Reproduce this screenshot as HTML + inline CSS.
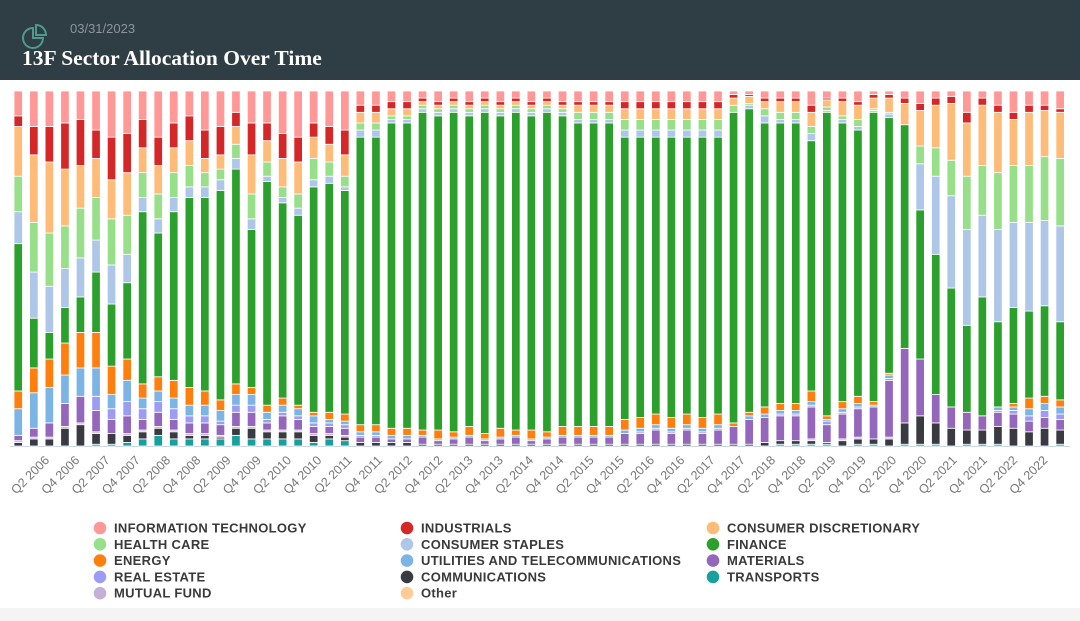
<!DOCTYPE html>
<html><head><meta charset="utf-8"><style>
body{margin:0;width:1080px;height:621px;overflow:hidden;background:#fff;font-family:"Liberation Sans","DejaVu Sans",sans-serif}
#hdr{position:absolute;left:0;top:0;width:1080px;height:80px;background:#2f3d44}
#date{position:absolute;left:70px;top:21px;color:#8a969c;font-size:13px}
#title{position:absolute;left:22px;top:46px;color:#fff;font-family:"Liberation Serif",serif;font-weight:bold;font-size:21.5px}
#foot{position:absolute;left:0;top:608px;width:1080px;height:13px;background:#f4f4f4}
</style></head><body>
<div id="hdr"><svg style="position:absolute;left:21px;top:22px" width="30" height="30" viewBox="0 0 30 30"><path d="M12 6 A10 10 0 1 0 22 16 L12 16 Z" fill="none" stroke="#4f9a8f" stroke-width="2"/><path d="M15 3 A10 10 0 0 1 25 13 L15 13 Z" fill="none" stroke="#4f9a8f" stroke-width="2"/></svg>
<div id="date">03/31/2023</div><div id="title">13F Sector Allocation Over Time</div></div>
<svg id="c" style="position:absolute;left:0;top:0" width="1080" height="608"></svg>
<div id="foot"></div>
<script>
var C=["#17a09c","#3a3a42","#c5b0d5","#9467bd","#9c9cf5","#7db4e6","#ff7f0e","#2ca02c","#aec7e8","#98df8a","#ffbb78","#d62728","#ff9896"];
var E={
0:[0,1,0.5,1.5,0,7.5,5,9,10,14,3,7],
1:[0,2,0.5,2.5,0,10,7,13,14,19,8,10],
2:[0,2,0.5,4,0,10,8,13,15,20,10,10],
3:[0,5,0.5,6.5,0,8,9,11,12,16,13,9],
4:[0,6,0.5,7.5,0,8,10,11,14,12,13,8],
5:[0.5,3,0.5,6,4,8,10,9,12,11,8,11],
6:[0.5,3,0,4,3,4,8,11,13,11,12,13],
7:[1,2,0.5,5,4,6,6,8,11,12,11,12],
8:[2,2,0.5,3,3,3,4,4,7,7,8,8],
9:[3,2,0.5,4,3,3,4,4,7,8,8,13],
10:[2,2,0.5,3,3,3,5,4,7,7,7,9],
11:[2,1,0.5,3,2,3,5,3,6,7,7,7],
12:[2,1,0.5,3,2,3,4,3,4,4,8,11],
13:[2,0.5,0.5,3,1,3,3,3,3,4,8,10],
14:[3,2,0.5,4,2,3,3,3,4,5,4,6],
15:[2,3,0.5,4,2,3,2,3,7,11,9,9],
16:[2,2,0.5,2,1,2,2,1.5,4,6,5,9],
17:[2,2,0.5,4,1,2,2,1.5,3,8,7,12],
18:[2,2,0.5,3,1,2,1,2,4,9,7,13],
19:[1,2,0.5,2,1,2,1,2,6,6,4,9],
20:[2,1,0.5,2,1,1,2,2,4,5,5,10],
21:[1.5,1,0.5,2,1,1,2,1,3,6,7,11],
46:[0,0.5,0,5,0,0,1,0,2,2,1,1],
47:[0,0.5,0,7,0,1,1,1,0.5,2,0.5,1],
48:[0,1,0,7,0,1,2,2,2,2,1,2],
49:[0.5,1,0,7,0.5,1,2,1,2,3,1,2],
50:[0.5,1,0,7,0.5,1,2,1,2,3,1,2],
51:[0.5,1,0.5,9,0.5,1,3,2,2,4,2,4],
52:[0.5,0.5,0,5,1,0.5,1,0.5,1,2,0.5,2],
53:[0,1.5,0.5,7,0.5,1,2,1,1,4,1,2],
54:[0.5,1.5,0.5,8,0.5,1,2,1,2,4,1,3],
55:[0.5,1.5,0,9,0,0.5,1,0.5,0.5,3,1,1],
56:[0,2,0.5,16,0.5,1,0.5,1,0.5,4,1,1],
57:[0.5,6,0,21,0,0,0,0,0,6,1.5,2],
58:[0.5,8,0,16,0,0,0,13,5,10,2,3.5],
59:[0.5,6,0,8,0,0,0,22,8,12,2,2],
60:[0,5,0,6,0,0,0,26,10,16,2,1.5],
61:[0.5,4,0,5,0,0,0,27,15,15,3,6],
62:[0.5,4,0,4,0,0,0,23,14,17,2,2],
63:[0.5,5,0,4,0.5,1,0,26,16,17,2,4],
64:[0,5,0,4,1,1,1,24,16,13,2,6],
65:[0,4,0,3,1.5,2,3,25,16,15,2,4],
66:[0,5,0,3,2,2,2,24,18,13,1.5,4],
67:[0.5,4,0,3,1.5,2,2,27,19,13,1,5]};
function gen(i){
 var b,t;
 if(i<=25){b=[0,1,0,1.5,0.5,1,2];t=[2,2,3,2,4];if(i>=24){b=[0,1,0,1,0,1,2];t=[1,1,2,2,3];}}
 else if(i<=35){b=[0,0.5,0,1+((i%3)*0.5),0,0.5,1.5+(i%2)];t=[1,1,1,1,2+(i%2)];}
 else if(i<=38){b=[0,0.5,0,2,0,0.5,2.5];t=[1,2,2,1,3];}
 else if(i==39){b=[0,0.5,0,3,0,1,3];t=[2,3,3,2,3];}
 else {b=[0,0.5,0,3+(i%2),0.5,1,3];t=[2,3,3,2,3];}
 return b.concat(t);
}
var s='',X0=14,P=15.55,W=8.5,Y0=91,H=355;
s+='<line x1="10" x2="1070" y1="446.5" y2="446.5" stroke="#c8d3e6" stroke-width="1"/>';
for(var i=0;i<68;i++){
 var a=E[i]||gen(i);
 var sum=a.reduce(function(p,c){return p+c},0);
 var v=a.slice(0,7).concat([Math.max(0,100-sum)]).concat(a.slice(7));
 var y=Y0+H,x=X0+i*P;
 for(var k=0;k<13;k++){
  var h=v[k]*H/100;if(h<=0)continue;
  y-=h;
  s+='<rect x="'+x.toFixed(1)+'" y="'+y.toFixed(2)+'" width="'+W+'" height="'+h.toFixed(2)+'" fill="'+C[k]+'" stroke="#fff" stroke-width="0.8"/>';
 }
}
var L=[];for(var y=2006;y<=2022;y++){L.push('Q2 '+y);L.push('Q4 '+y);}
for(var j=0;j<L.length;j++){
 var ex=50+j*30.25, ey=461;
 s+='<text x="'+ex+'" y="'+ey+'" transform="rotate(-45 '+ex+' '+ey+')" text-anchor="end" font-size="12.5" fill="#777">'+L[j]+'</text>';
}
var LG=[["INFORMATION TECHNOLOGY",12],["INDUSTRIALS",11],["CONSUMER DISCRETIONARY",10],["HEALTH CARE",9],["CONSUMER STAPLES",8],["FINANCE",7],["ENERGY",6],["UTILITIES AND TELECOMMUNICATIONS",5],["MATERIALS",3],["REAL ESTATE",4],["COMMUNICATIONS",1],["TRANSPORTS",0],["MUTUAL FUND",2],["Other","#ffcc99"]];
var cx=[100,407,713];
for(var j=0;j<LG.length;j++){
 var col=j%3,row=Math.floor(j/3),yy=528+row*16.3;
 var c=typeof LG[j][1]=="number"?C[LG[j][1]]:LG[j][1];
 s+='<circle cx="'+cx[col]+'" cy="'+yy+'" r="6.3" fill="'+c+'"/>';
 s+='<text x="'+(cx[col]+14)+'" y="'+(yy+4.5)+'" font-size="13" font-weight="bold" fill="#3a3a3a" letter-spacing="0.3">'+LG[j][0]+'</text>';
}
document.getElementById('c').innerHTML=s;
</script>
</body></html>
